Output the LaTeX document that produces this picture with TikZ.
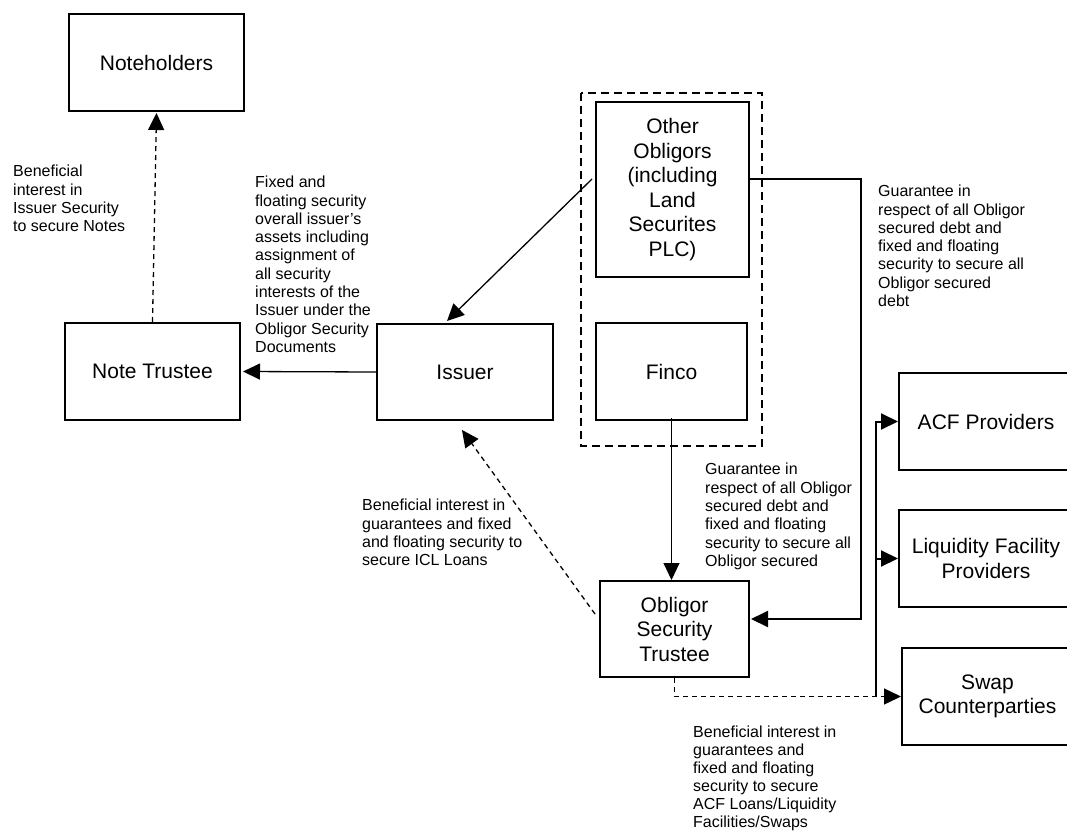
\documentclass[tikz,border=0pt]{standalone}
\usepackage{fontspec}
\setmainfont{Liberation Sans}
\usetikzlibrary{arrows.meta,calc}
\begin{document}
\begin{tikzpicture}[x=1pt,y=-1pt,
  box/.style={draw, line width=2pt, inner sep=0pt, align=center,
    font=\fontsize{21}{24.5}\selectfont},
  note/.style={anchor=north west, inner sep=0pt, align=left,
    font=\fontsize{16}{18.3}\selectfont},
  tip/.style={-{Triangle[length=17pt,width=16pt]}},
  link/.style={tip, line width=1.3pt},
  thinlink/.style={tip, line width=1pt},
  heavy/.style={line width=2pt},
  dlink/.style={link, dash pattern=on 5pt off 4pt},
  group/.style={draw, line width=1.6pt, dash pattern=on 8pt off 5pt}]
\useasboundingbox (0,0) rectangle (1067,832);
\clip (0,0) rectangle (1067,832);
\fill[white] (0,0) rectangle (1067,832);

% parties
\node[box, minimum width=175pt, minimum height=97pt] (noteholders) at (156.5,62.5) {Noteholders};
\node[box, minimum width=175pt, minimum height=97pt] (notetrustee) at (152.5,371.5) {Note Trustee};
\node[box, minimum width=176pt, minimum height=96pt] (issuer) at (465,372) {Issuer};
\node[box, minimum width=153pt, minimum height=175pt] (others) at (672.5,189.5)
  {Other\\Obligors\\(including\\Land\\Securites\\PLC)};
\node[box, minimum width=151pt, minimum height=97pt] (finco) at (671.5,371.5) {Finco};
\node[box, minimum width=149pt, minimum height=96pt] (ost) at (674.5,629)
  {Obligor\\Security\\Trustee};
\node[box, minimum width=174pt, minimum height=97pt] (acf) at (986,421.5) {ACF Providers};
\node[box, minimum width=174pt, minimum height=97pt] (liq) at (986,558.5)
  {Liquidity Facility\\Providers};
\node[box, minimum width=171pt, minimum height=97pt] (swap) at (987.5,696.5)
  {Swap\\Counterparties};

% obligor group outline
\draw[group] (581,93) rectangle (762,446);

% connectors
\draw[dlink] (notetrustee.north) -- ([yshift=-1pt]noteholders.south);
\draw[link] (issuer.west) -- ([xshift=2pt]notetrustee.east);
\draw[link] ([xshift=-3pt,yshift=10.5pt]others.west) -- ([xshift=-18pt,yshift=2pt]issuer.north);
\coordinate (gtee) at (861,179);
\draw[heavy, tip] ([yshift=10.5pt]others.east) -- (gtee) |- ([xshift=1pt,yshift=10pt]ost.east);
\draw[thinlink] ([yshift=3pt]finco.south) -- (finco.south |- ost.north);
\draw[dlink, shorten >=11pt] ([xshift=-4pt,yshift=15pt]ost.west) -- ([xshift=-9.5pt]issuer.south);
\draw[dlink] (ost.south) |- (swap.west);
\coordinate (bus) at (876,696.5);
\draw[heavy, tip] (bus) |- (acf.west);
\draw[heavy, tip] (bus |- liq.west) -- (liq.west);
\draw[heavy] (bus) -- (bus |- liq.west);

% labels
\node[note] at (13,165) {Beneficial\\interest in\\Issuer Security\\to secure Notes};
\node[note] at (255,176) {Fixed and\\floating security\\overall issuer's\\assets including\\assignment of\\all security\\interests of the\\Issuer under the\\Obligor Security\\Documents};
\node[note] at (878,185) {Guarantee in\\respect of all Obligor\\secured debt and\\fixed and floating\\security to secure all\\Obligor secured\\debt};
\node[note] at (705,463) {Guarantee in\\respect of all Obligor\\secured debt and\\fixed and floating\\security to secure all\\Obligor secured};
\node[note] at (362,499) {Beneficial interest in\\guarantees and fixed\\and floating security to\\secure ICL Loans};
\node[note, font=\fontsize{16}{18}\selectfont] at (693,726) {Beneficial interest in\\guarantees and\\fixed and floating\\security to secure\\ACF Loans/Liquidity\\Facilities/Swaps};
\end{tikzpicture}
\end{document}
